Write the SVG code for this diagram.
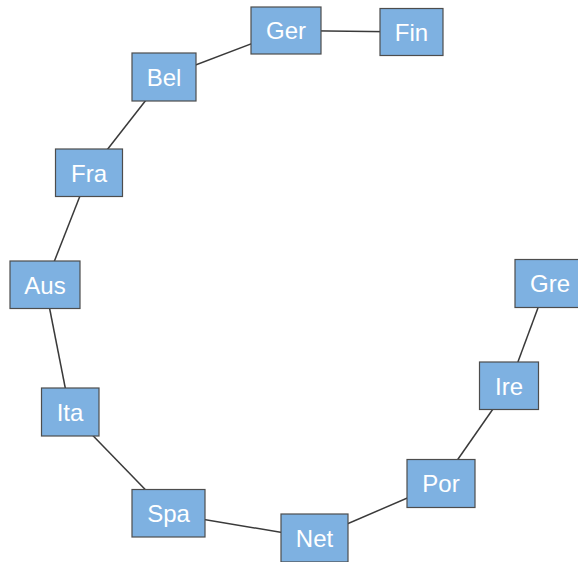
<svg xmlns="http://www.w3.org/2000/svg" width="578" height="562" viewBox="0 0 578 562">
<style>
.n rect{fill:#7eb1e1;stroke:#4d4d4d;stroke-width:1.2}
.n text{fill:#ffffff;font-family:"Liberation Sans",Arial,sans-serif;font-size:24px;text-anchor:middle}
#edges line{stroke:#3a3a3a;stroke-width:1.5}
</style>
<rect width="578" height="562" fill="#ffffff"/>
<g id="edges">
<line x1="286" y1="30.5" x2="411.5" y2="32"/>
<line x1="164" y1="77" x2="286" y2="30.5"/>
<line x1="89" y1="173" x2="164" y2="77"/>
<line x1="45" y1="285" x2="89" y2="173"/>
<line x1="70" y1="412" x2="45" y2="285"/>
<line x1="168.5" y1="513.5" x2="70" y2="412"/>
<line x1="314.5" y1="538" x2="168.5" y2="513.5"/>
<line x1="441" y1="483.5" x2="314.5" y2="538"/>
<line x1="509" y1="386" x2="441" y2="483.5"/>
<line x1="547" y1="283.5" x2="509" y2="386"/>
</g>
<g id="Ger" class="n"><rect x="251" y="7" width="70" height="47"/><text x="286" y="39">Ger</text></g>
<g id="Fin" class="n"><rect x="380" y="8.5" width="63" height="47"/><text x="411.5" y="40.5">Fin</text></g>
<g id="Bel" class="n"><rect x="132" y="53" width="64" height="48"/><text x="164" y="85.5">Bel</text></g>
<g id="Fra" class="n"><rect x="55.5" y="149" width="67" height="47.5"/><text x="89" y="181.5">Fra</text></g>
<g id="Aus" class="n"><rect x="10" y="261" width="70" height="47.5"/><text x="45" y="293.5">Aus</text></g>
<g id="Ita" class="n"><rect x="41.5" y="388" width="57.5" height="48"/><text x="70" y="420.5">Ita</text></g>
<g id="Spa" class="n"><rect x="132" y="489.5" width="73" height="47.5"/><text x="168.5" y="521.5">Spa</text></g>
<g id="Net" class="n"><rect x="281" y="514" width="67" height="48"/><text x="314.5" y="546.5">Net</text></g>
<g id="Por" class="n"><rect x="407" y="459.5" width="68" height="48"/><text x="441" y="492">Por</text></g>
<g id="Ire" class="n"><rect x="479.5" y="362" width="59" height="47.5"/><text x="509" y="394.5">Ire</text></g>
<g id="Gre" class="n"><rect x="515" y="259.5" width="64" height="48"/><text x="550" y="292">Gre</text></g>
</svg>
